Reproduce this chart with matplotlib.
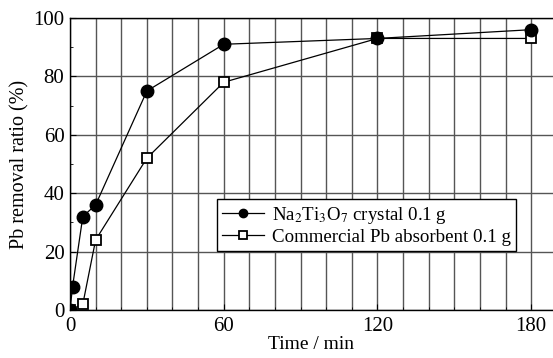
import matplotlib
matplotlib.use('Agg')
import matplotlib.pyplot as plt
import numpy as np

plt.rcParams['font.family'] = ['Liberation Serif', 'DejaVu Serif']
plt.rcParams['mathtext.fontset'] = 'stix'

# ===== Data =====
t_na = [0, 1, 5, 10, 30, 60, 120, 180]
pb_na = [0, 8, 32, 36, 75, 91, 93, 96]
t_com = [0, 5, 10, 30, 60, 120, 180]
pb_com = [0, 2, 24, 52, 78, 93, 93]

fig = plt.figure(figsize=(5.53, 3.58), dpi=100)
ax = fig.add_axes([70/553, 1 - 310/358, 483/553, 292/358])

ax.set_xlim(0, 188.5)
ax.set_ylim(0, 100)
ax.set_xticks([0, 60, 120, 180])
ax.set_xticks(np.arange(0, 190, 10), minor=True)
ax.set_yticks(np.arange(0, 101, 20))
ax.set_yticks(np.arange(0, 101, 10), minor=True)
ax.grid(True, which='minor', axis='x', color='#555555', linewidth=1.0)
ax.grid(True, which='major', axis='x', color='#555555', linewidth=1.0)
ax.grid(True, which='major', axis='y', color='#555555', linewidth=1.0)
ax.set_axisbelow(True)
ax.tick_params(which='both', direction='in', labelsize=15)
ax.tick_params(axis='x', pad=5)
ax.tick_params(axis='y', pad=4)
ax.tick_params(which='major', length=4)
ax.tick_params(which='minor', length=2)
ax.spines['right'].set_visible(False)
for s in ['left', 'top', 'bottom']:
    ax.spines[s].set_linewidth(1.0)

ax.plot(t_com, pb_com, '-s', color='black', lw=0.9, ms=7, mfc='white', mec='black', mew=1.3,
        label='Commercial Pb absorbent 0.1 g', zorder=3)
ax.plot(t_na, pb_na, '-o', color='black', lw=0.9, ms=9, mfc='black', mec='black',
        label=r'Na$_2$Ti$_3$O$_7$ crystal 0.1 g', zorder=4)

h, l = ax.get_legend_handles_labels()
leg = ax.legend(h[::-1], l[::-1], loc='upper left', bbox_to_anchor=(0.304, 0.38),
                fontsize=13.6, frameon=True, fancybox=False, edgecolor='black',
                framealpha=1, handlelength=2.2, handletextpad=0.4, borderpad=0.3,
                labelspacing=0.15, borderaxespad=0)
leg.get_frame().set_linewidth(1.0)
for lh in leg.legend_handles:
    lh.set_markersize(6)

ax.set_xlabel('Time / min', fontsize=14, labelpad=0)
ax.set_ylabel('Pb removal ratio (%)', fontsize=14.5, labelpad=3)

fig.savefig('out.png', dpi=100)
